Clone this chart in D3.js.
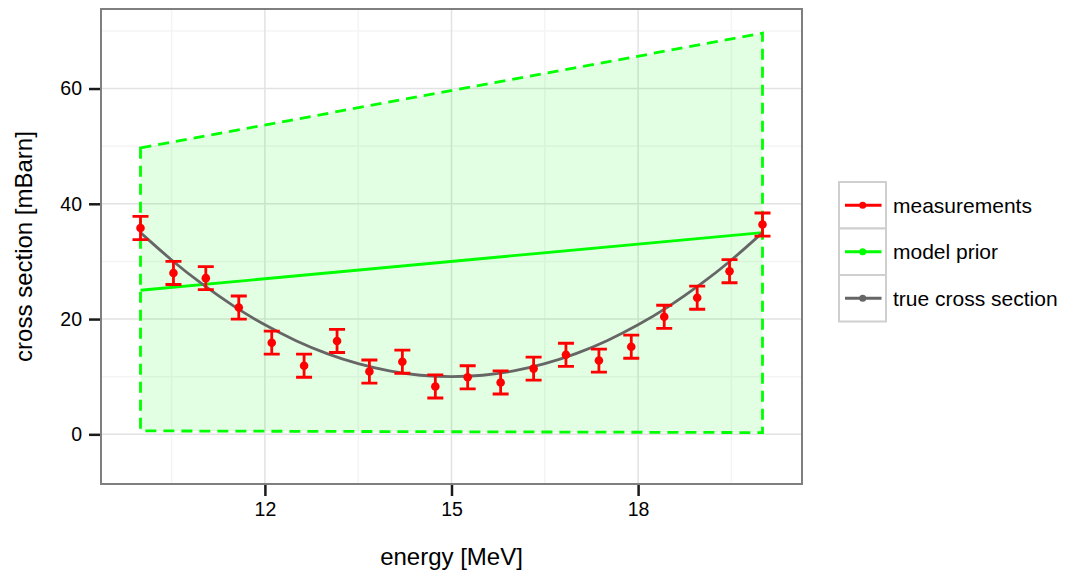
<!DOCTYPE html>
<html>
<head>
<meta charset="utf-8">
<script src="https://cdn.jsdelivr.net/npm/d3@7"></script>
<style>
  body { margin: 0; background: #fff; }
  text { font-family: "Liberation Sans", Arial, sans-serif; }
</style>
</head>
<body>
<svg width="1066" height="572"></svg>
<script>
// measurements
const energy = [10.00, 10.53, 11.05, 11.58, 12.11, 12.63, 13.16, 13.68, 14.21, 14.74,
                15.26, 15.79, 16.32, 16.84, 17.37, 17.89, 18.42, 18.95, 19.47, 20.00];
const measured = [35.8, 28.0, 27.1, 22.0, 15.9, 11.9, 16.2, 10.9, 12.6, 8.3,
                  9.9, 9.0, 11.4, 13.8, 12.8, 15.2, 20.4, 23.7, 28.3, 36.4];
const measErr = [2, 2, 2, 2, 2, 2, 2, 2, 2, 2, 2, 2, 2, 2, 2, 2, 2, 2, 2, 2];

// model prior and its band
const priorX = [10, 20];
const prior = [25, 35];
const priorLow = [0.6, 0.3];
const priorHigh = [49.7, 69.6];

// true cross section
const trueX = [10, 10.5, 11, 11.5, 12, 12.5, 13, 13.5, 14, 14.5, 15,
               15.5, 16, 16.5, 17, 17.5, 18, 18.5, 19, 19.5, 20];
const trueY = [35, 30.25, 26, 22.25, 19, 16.25, 14, 12.25, 11, 10.25, 10,
               10.25, 11, 12.25, 14, 16.25, 19, 22.25, 26, 30.25, 35];

const xTicks = [12, 15, 18];
const yTicks = [0, 20, 40, 60];
const xMinor = [10.5, 13.5, 16.5, 19.5];
const yMinor = [10, 30, 50, 70];

const legendLabels = ["measurements", "model prior", "true cross section"];
const legendColors = ["#ff0000", "#00ff00", "#666666"];

const svg = d3.select("svg");
const panel = { left: 101, top: 9, right: 802, bottom: 484 };

const x = d3.scaleLinear().domain([9.365, 20.635]).range([panel.left, panel.right]);
const y = d3.scaleLinear().domain([-8.62, 73.8]).range([panel.bottom, panel.top]);

// grid
const grid = svg.append("g");
grid.selectAll(".xminor").data(xMinor).enter().append("line")
  .attr("x1", d => x(d)).attr("x2", d => x(d))
  .attr("y1", panel.top).attr("y2", panel.bottom)
  .attr("stroke", "#f4f4f4").attr("stroke-width", 1.5);
grid.selectAll(".yminor").data(yMinor).enter().append("line")
  .attr("y1", d => y(d)).attr("y2", d => y(d))
  .attr("x1", panel.left).attr("x2", panel.right)
  .attr("stroke", "#f4f4f4").attr("stroke-width", 1.5);
grid.selectAll(".xmajor").data(xTicks).enter().append("line")
  .attr("x1", d => x(d)).attr("x2", d => x(d))
  .attr("y1", panel.top).attr("y2", panel.bottom)
  .attr("stroke", "#e2e2e2").attr("stroke-width", 1.5);
grid.selectAll(".ymajor").data(yTicks).enter().append("line")
  .attr("y1", d => y(d)).attr("y2", d => y(d))
  .attr("x1", panel.left).attr("x2", panel.right)
  .attr("stroke", "#e2e2e2").attr("stroke-width", 1.5);

// prior band
const band = priorX.map((v, i) => ({ x: v, lo: priorLow[i], hi: priorHigh[i] }));
const bandPoly = band.map(d => [x(d.x), y(d.hi)])
  .concat(band.slice().reverse().map(d => [x(d.x), y(d.lo)]));
svg.append("path")
  .attr("d", "M" + bandPoly.join("L") + "Z")
  .attr("fill", "#00ff00").attr("fill-opacity", 0.11)
  .attr("stroke", "#00ff00").attr("stroke-width", 2.8)
  .attr("stroke-dasharray", "11,7");

// prior line
svg.append("path")
  .datum(priorX.map((v, i) => [v, prior[i]]))
  .attr("d", d3.line().x(d => x(d[0])).y(d => y(d[1])))
  .attr("fill", "none").attr("stroke", "#00ff00").attr("stroke-width", 2.8);

// true cross section
svg.append("path")
  .datum(trueX.map((v, i) => [v, trueY[i]]))
  .attr("d", d3.line().x(d => x(d[0])).y(d => y(d[1])).curve(d3.curveNatural))
  .attr("fill", "none").attr("stroke", "#666666").attr("stroke-width", 2.8);

// measurements
const meas = energy.map((v, i) => ({ x: v, y: measured[i], e: measErr[i] }));
const mg = svg.append("g").attr("stroke", "#ff0000").attr("stroke-width", 2.8);
const capW = 8;
mg.selectAll(".eb").data(meas).enter().append("path")
  .attr("fill", "none")
  .attr("d", d => {
    const cx = x(d.x), t = y(d.y + d.e), b = y(d.y - d.e);
    return `M${cx - capW},${t}H${cx + capW}M${cx},${t}V${b}M${cx - capW},${b}H${cx + capW}`;
  });
svg.selectAll(".pt").data(meas).enter().append("circle")
  .attr("cx", d => x(d.x)).attr("cy", d => y(d.y)).attr("r", 4.3)
  .attr("fill", "#ff0000");

// panel border
svg.append("rect")
  .attr("x", panel.left).attr("y", panel.top)
  .attr("width", panel.right - panel.left).attr("height", panel.bottom - panel.top)
  .attr("fill", "none").attr("stroke", "#7f7f7f").attr("stroke-width", 2);

// axes
const xAxis = svg.append("g")
  .attr("transform", `translate(0,${panel.bottom + 1})`)
  .call(d3.axisBottom(x).tickValues(xTicks).tickSize(11).tickPadding(6));
const yAxis = svg.append("g")
  .attr("transform", `translate(${panel.left - 1},0)`)
  .call(d3.axisLeft(y).tickValues(yTicks).tickSize(11).tickPadding(7));
[xAxis, yAxis].forEach(a => {
  a.select(".domain").remove();
  a.selectAll(".tick line").attr("stroke", "#1a1a1a").attr("stroke-width", 2.5);
  a.selectAll(".tick text").attr("fill", "#000").style("font-size", "19.5px")
    .style("font-family", "'Liberation Sans', Arial, sans-serif");
});

svg.append("text")
  .attr("x", (panel.left + panel.right) / 2).attr("y", 564.5)
  .attr("text-anchor", "middle").style("font-size", "24px")
  .text("energy [MeV]");
svg.append("text")
  .attr("transform", `translate(32,${(panel.top + panel.bottom) / 2}) rotate(-90)`)
  .attr("text-anchor", "middle").style("font-size", "24px")
  .text("cross section [mBarn]");

// legend
const lg = svg.append("g").attr("transform", "translate(839,182)");
const keyH = 46.5, keyW = 47;
legendLabels.forEach((lab, i) => {
  const k = lg.append("g").attr("transform", `translate(0,${i * keyH})`);
  k.append("rect").attr("width", keyW).attr("height", keyH)
    .attr("fill", "#fff").attr("stroke", "#cfcfcf").attr("stroke-width", 2);
  k.append("line").attr("x1", 6).attr("x2", 42.5)
    .attr("y1", keyH / 2).attr("y2", keyH / 2)
    .attr("stroke", legendColors[i]).attr("stroke-width", 2.8);
  k.append("circle").attr("cx", 23.7).attr("cy", keyH / 2).attr("r", 3.5)
    .attr("fill", legendColors[i]);
  k.append("text").attr("x", 54).attr("y", keyH / 2).attr("dy", "0.35em")
    .style("font-size", "21px").text(lab);
});
</script>
</body>
</html>
